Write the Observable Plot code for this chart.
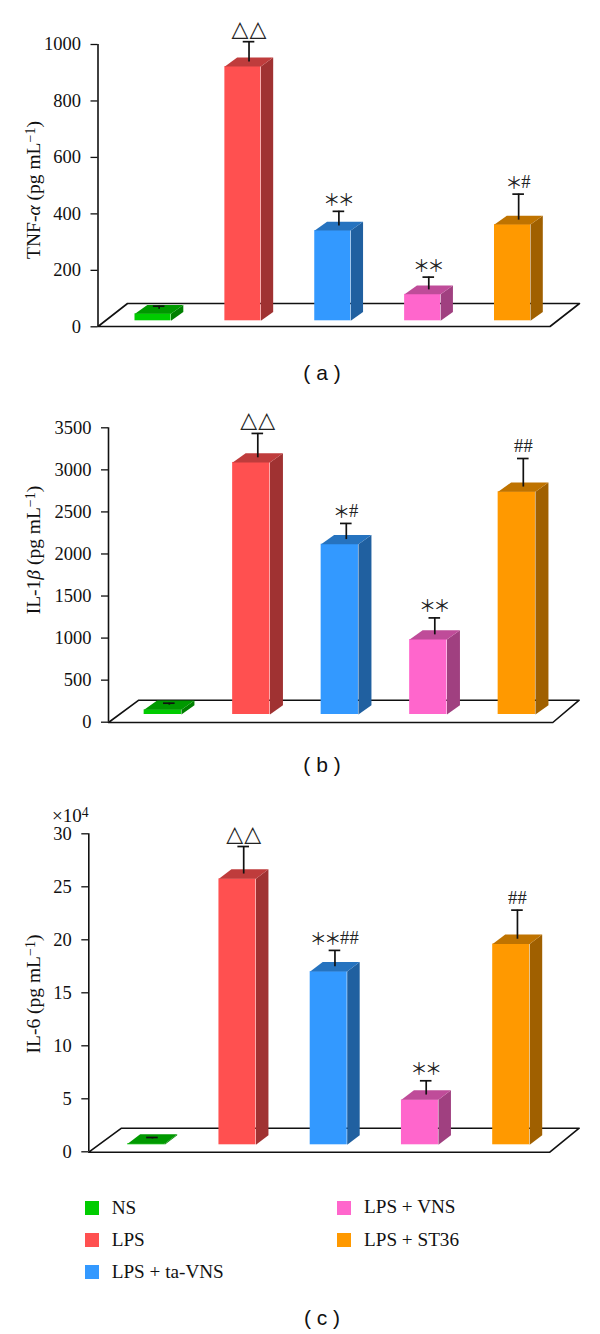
<!DOCTYPE html>
<html>
<head>
<meta charset="utf-8">
<script src="https://cdn.jsdelivr.net/npm/d3@7"></script>
<script src="https://cdn.jsdelivr.net/npm/@observablehq/plot@0.6"></script>
<style>
html,body{margin:0;padding:0;background:#fff;}
#page{position:relative;width:600px;height:1334px;overflow:hidden;}
.panel{position:absolute;left:0;}
.caption{position:absolute;left:262px;width:120px;text-align:center;font:21px/24px "Liberation Sans",sans-serif;color:#111;white-space:pre;}
.swatch{position:absolute;width:14px;height:14px;}
.legend-label{position:absolute;font:19.2px/22px "Liberation Serif",serif;color:#111;white-space:pre;}
</style>
</head>
<body>
<div id="page"></div>
<script>
// ---------- data ----------
const groups = ["NS", "LPS", "LPS + ta-VNS", "LPS + VNS", "LPS + ST36"];

const tnfMeans = [46, 922, 341, 115, 362];
const tnfErrorTops = [73, 1010, 409, 176, 470];
const tnfMarks = ["", "△△", "＊＊", "＊＊", "＊#"];
const tnfTicks = [0, 200, 400, 600, 800, 1000];

const il1Means = [147, 3088, 2116, 983, 2740];
const il1ErrorTops = [226, 3433, 2363, 1240, 3135];
const il1Marks = ["", "△△", "＊#", "＊＊", "##"];
const il1Ticks = [0, 500, 1000, 1500, 2000, 2500, 3000, 3500];

const il6Means = [0.76, 25.75, 17.0, 4.9, 19.6];
const il6ErrorTops = [1.35, 28.8, 19.0, 6.7, 22.8];
const il6Marks = ["", "△△", "＊＊##", "＊＊", "##"];
const il6Ticks = [0, 5, 10, 15, 20, 25, 30];

const frontColors = ["#00cc00", "#ff5050", "#3399ff", "#ff66cc", "#ff9900"];
const topColors = ["#009900", "#bf3c3c", "#2673bf", "#bf4c99", "#bf7300"];
const sideColors = ["#008000", "#a03232", "#2060a0", "#a04080", "#a06000"];

// ---------- layout of the three panels (page pixels) ----------
const panels = [
  {top: 0, height: 390, means: tnfMeans, errs: tnfErrorTops, marks: tnfMarks, ticks: tnfTicks,
   yTop: 44, yBottom: 326.3, axisX: 97.5, base: 320.3,
   floor: {fl: 97.5, bl: 127, br: 579, fr: 549.5, fy: 326, by: 303},
   c0: 152.5, c4: 512, barW: 36, depthX: 12.3, depthY: 8.9,
   title: [["TNF-"], ["α", "i"], [" (pg mL"], ["−1", "s"], [")"]], titleY: 190,
   caption: "( a )", captionY: 372.5},
  {top: 390, height: 395, means: il1Means, errs: il1ErrorTops, marks: il1Marks, ticks: il1Ticks,
   yTop: 427.3, yBottom: 721.7, axisX: 108, base: 714,
   floor: {fl: 108, bl: 138.3, br: 578.7, fr: 552.3, fy: 722, by: 699.7},
   c0: 162.3, c4: 516.3, barW: 37.3, depthX: 13, depthY: 9.3,
   title: [["IL-1"], ["β", "i"], [" (pg mL"], ["−1", "s"], [")"]], titleY: 550,
   caption: "( b )", captionY: 765},
  {top: 785, height: 385, means: il6Means, errs: il6ErrorTops, marks: il6Marks, ticks: il6Ticks,
   yTop: 833.3, yBottom: 1151.3, axisX: 88.3, base: 1144.3,
   floor: {fl: 88.3, bl: 121, br: 578.7, fr: 549.3, fy: 1151.7, by: 1127.7},
   c0: 145.7, c4: 510.7, barW: 37, depthX: 12.5, depthY: 9.6,
   title: [["IL-6 (pg mL"], ["−1", "s"], [")"]], titleY: 994,
   caption: "( c )", captionY: 1318,
   multiplier: true}
];

const glyphStyle = {
  "△": {advance: 18, size: 22, font: "DejaVu Sans"},
  "＊": {advance: 14.5, size: 17, font: "Noto Sans CJK JP"},
  "#": {advance: 9.5, size: 18.5, font: "Liberation Serif"}
};

const page = document.getElementById("page");

function richText(parts, attrs, fontSize) {
  return () => {
    const t = d3.create("svg:text")
      .attr("font-family", "Liberation Serif")
      .attr("font-size", fontSize)
      .attr("fill", "#111");
    for (const [k, v] of Object.entries(attrs)) t.attr(k, v);
    for (const [str, kind] of parts) {
      const s = t.append("tspan").text(str);
      if (kind === "i") s.attr("font-style", "italic");
      if (kind === "s") s.attr("font-size", fontSize * 0.72).attr("baseline-shift", "35%");
    }
    return t.node();
  };
}

function drawPanel(p) {
  const step = (p.c4 - p.c0) / 4;
  const maxTick = p.ticks[p.ticks.length - 1];
  const pxPerUnit = (p.yBottom - p.yTop) / maxTick;
  const unitX = px => (px - p.c0) / step;
  const unitY = py => (p.yBottom - py) / pxPerUnit;
  const half = p.barW / 2 / step;
  const dX = p.depthX / step;
  const dY = p.depthY / pxPerUnit;
  const base = unitY(p.base);

  const rows = groups.map((g, i) => ({g, i, v: p.means[i], e: p.errs[i]}));
  const face = (r, name) => {
    const l = r.i - half, h = r.i + half;
    const corners = name === "top"
      ? [[l, r.v], [h, r.v], [h + dX, r.v + dY], [l + dX, r.v + dY]]
      : [[h, base], [h + dX, base + dY], [h + dX, r.v + dY], [h, r.v]];
    return corners.map(([x, y]) => ({x, y, g: r.g + name, color: (name === "top" ? topColors : sideColors)[r.i]}));
  };
  const topFaces = rows.flatMap(r => face(r, "top"));
  const sideFaces = rows.flatMap(r => face(r, "side"));

  const f = p.floor;
  const floorPts = [[f.fl, f.fy], [f.bl, f.by], [f.br, f.by], [f.fr, f.fy], [f.fl, f.fy]]
    .map(([x, y]) => ({x: unitX(x), y: unitY(y)}));

  // significance marks, glyph by glyph, centred over each error bar
  const glyphs = [];
  rows.forEach(r => {
    const chars = Array.from(p.marks[r.i]);
    const total = d3.sum(chars, c => glyphStyle[c].advance);
    let cursor = r.i + dX / 2 - total / 2 / step;
    for (const c of chars) {
      const a = glyphStyle[c].advance / step;
      glyphs.push({c, x: cursor + a / 2, y: r.e});
      cursor += a;
    }
  });
  const glyphMark = c => Plot.text(glyphs.filter(d => d.c === c), {
    x: "x", y: "y", text: "c", dy: c === "△" ? -13 : c === "#" ? -12 : -11,
    fontSize: glyphStyle[c].size, fontFamily: glyphStyle[c].font,
    fill: "#222", lineAnchor: "middle", textAnchor: "middle"
  });

  const errX = d => d.i + dX / 2;
  const capHalf = 5.8 / step;
  const chart = Plot.plot({
    width: 600,
    height: p.height,
    marginLeft: p.axisX,
    marginRight: 0,
    marginTop: 0,
    marginBottom: 0,
    x: {domain: [0, 4], range: [p.c0, p.c4], axis: null},
    y: {domain: [0, maxTick], range: [p.yBottom - p.top, p.yTop - p.top], axis: null},
    style: {background: "transparent", fontFamily: "Liberation Serif", overflow: "visible"},
    marks: [
      Plot.line(floorPts, {x: "x", y: "y", stroke: "#111", strokeWidth: 1.6, fill: "white"}),
      Plot.ruleX([unitX(p.axisX)], {y1: 0, y2: maxTick, stroke: "#111", strokeWidth: 1.6}),
      Plot.axisY({
        ticks: p.ticks, tickSize: 7, tickPadding: 10, fontSize: 18.5, label: null,
        tickFormat: d => String(d), stroke: "#111", strokeWidth: 1.3, fill: "#111"
      }),
      Plot.line(sideFaces, {x: "x", y: "y", z: "g", fill: "color", stroke: null}),
      Plot.rect(rows, {
        x1: d => d.i - half, x2: d => d.i + half,
        y1: base, y2: "v", fill: d => frontColors[d.i]
      }),
      Plot.line(topFaces, {x: "x", y: "y", z: "g", fill: "color", stroke: null}),
      Plot.ruleX(rows, {
        x: errX, y1: d => d.v + dY / 2, y2: "e", stroke: "#111", strokeWidth: 1.7
      }),
      Plot.ruleY(rows, {
        y: "e", x1: d => errX(d) - capHalf, x2: d => errX(d) + capHalf, stroke: "#111", strokeWidth: 1.7
      }),
      ...Object.keys(glyphStyle).map(glyphMark),
      richText(p.title, {
        transform: `translate(40,${p.titleY - p.top}) rotate(-90)`,
        "text-anchor": "middle"
      }, 19.5),
      ...(p.multiplier ? [richText([["×10"], ["4", "s"]], {
        x: 52, y: 821.5 - p.top, "text-anchor": "start"
      }, 19)] : [])
    ]
  });
  const holder = document.createElement("div");
  holder.className = "panel";
  holder.style.top = p.top + "px";
  holder.appendChild(chart);
  page.appendChild(holder);

  const cap = document.createElement("div");
  cap.className = "caption";
  cap.style.top = (p.captionY - 12) + "px";
  cap.textContent = p.caption;
  page.appendChild(cap);
}
panels.forEach(drawPanel);

// ---------- legend ----------
const legendOrder = [
  {i: 0, col: 0, row: 0}, {i: 1, col: 0, row: 1}, {i: 2, col: 0, row: 2},
  {i: 3, col: 1, row: 0}, {i: 4, col: 1, row: 1}
];
for (const {i, col, row} of legendOrder) {
  const sw = document.createElement("div");
  sw.className = "swatch";
  sw.style.left = (col ? 336.7 : 85.3) + "px";
  sw.style.top = (1200.7 + row * 32) + "px";
  sw.style.background = frontColors[i];
  page.appendChild(sw);
  const lab = document.createElement("div");
  lab.className = "legend-label";
  lab.style.left = (col ? 364 : 111.7) + "px";
  lab.style.top = (1196.5 + row * 32 - (col && !row ? 1 : 0)) + "px";
  lab.textContent = groups[i];
  page.appendChild(lab);
}
</script>
</body>
</html>
